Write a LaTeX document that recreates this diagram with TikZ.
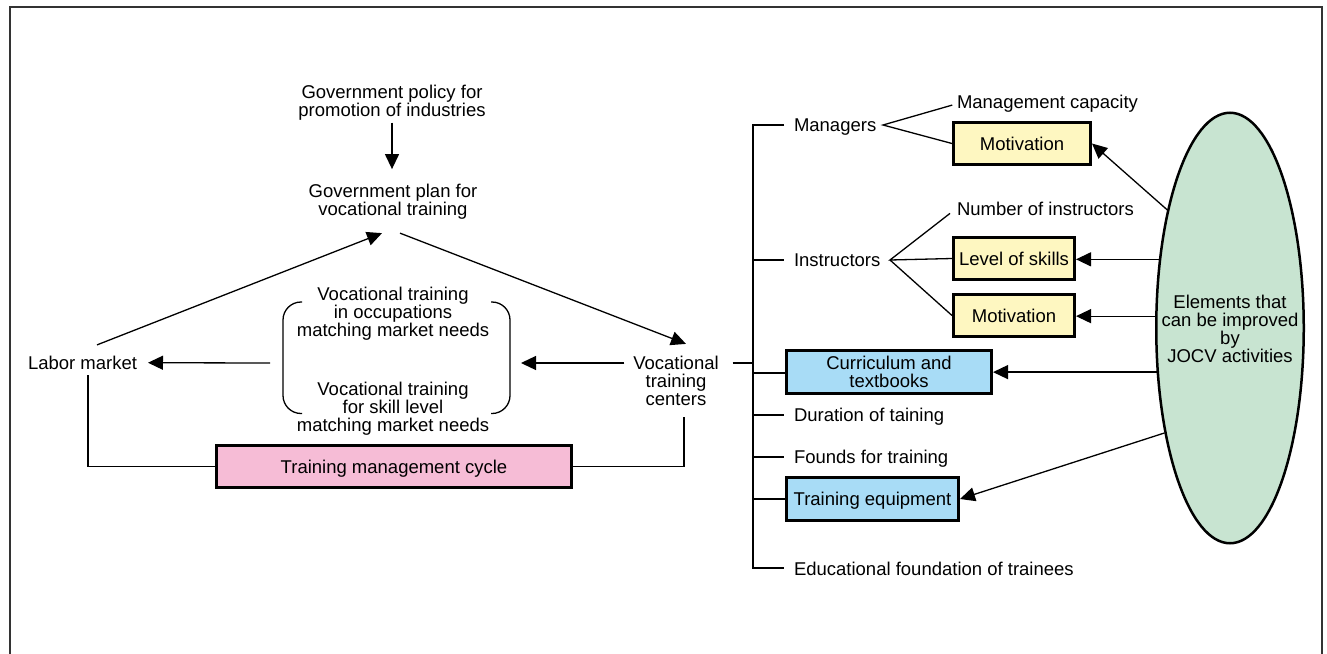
\documentclass[tikz,border=0pt]{standalone}
\usepackage{fontspec}
\setmainfont{Liberation Sans}
\usetikzlibrary{arrows.meta,shapes.geometric}
\definecolor{pinkbox}{HTML}{F6BCD6}
\definecolor{yelbox}{HTML}{FEF7C1}
\definecolor{bluebox}{HTML}{A8DCF6}
\definecolor{greenel}{HTML}{C8E4D1}
\definecolor{framecol}{HTML}{333333}
\begin{document}
\begin{tikzpicture}[x=1pt,y=-1pt,
  txt/.style={inner sep=0pt, outer sep=0pt, font=\fontsize{18.5}{18.2}\selectfont, align=center},
  ln/.style={line width=1.3pt},
  arr/.style={line width=1.3pt, -{Triangle[length=15pt,width=14pt]}},
  box/.style={draw, line width=3pt, inner sep=0pt, font=\fontsize{18.5}{18.2}\selectfont, align=center},
  onel/.style={text height=13.3pt, text depth=0pt}]
\useasboundingbox (0,0) rectangle (1327,653);
\draw[line width=2pt, framecol] (9.5,670) -- (9.5,6.5) -- (1322,6.5) -- (1322,670);

% left part (base anchor = baseline of last line)
\node[txt, anchor=base] (pol) at (392,116.7) {Government policy for\\promotion of industries};
\node[txt, anchor=base] (plan) at (393,215.7) {Government plan for\\vocational training};
\node[txt, anchor=base west] (lm) at (28,369.3) {Labor market};
\node[txt, anchor=base] (up) at (393,336.4) {Vocational training\\in occupations\\matching market needs};
\node[txt, anchor=base] (low) at (393,431.4) {Vocational training\\for skill level\\matching market needs};
\node[txt, anchor=base] (voc) at (676,405.4) {Vocational\\training\\centers};
\node[box, onel, fill=pinkbox, minimum width=355pt, minimum height=42pt] (tmc) at (394,466.5) {Training management cycle};

\coordinate (brR) at (521,363);
\coordinate (brL) at (270,363);

\draw[arr, shorten <=2pt, shorten >=15pt] (pol.south) -- (pol.south |- plan.north);
\draw[arr] ([xshift=14.5pt,yshift=11pt]lm.north) -- ([xshift=-11pt,yshift=-13.6pt]plan.south);
\draw[arr] ([xshift=7pt,yshift=-13.6pt]plan.south) -- ([xshift=10pt,yshift=11.7pt]voc.north);
\draw[arr, shorten <=9pt] (voc.west |- brR) -- (brR);
\draw[arr, shorten >=11pt] (brL) -- (lm.east);
\draw[ln, shorten <=6pt] ([xshift=5.5pt]lm.south) |- (tmc.west);
\draw[ln, shorten >=11.5pt] (tmc.east) -| ([xshift=8pt]voc.south);

\draw[ln, rounded corners=18pt] (302,302) -- (283,302) -- (283,413.5) -- (302,413.5);
\draw[ln, rounded corners=18pt] (491,302) -- (510,302) -- (510,413.5) -- (491,413.5);

% right part
\node[txt, anchor=base west] (mgr) at (794,131) {Managers};
\node[txt, anchor=base west] (mc) at (957,108.5) {Management capacity};
\node[box, onel, fill=yelbox, minimum width=137pt, minimum height=42pt] (mo1) at (1022,143.5) {Motivation};
\node[txt, anchor=base west] (ins) at (794,266.7) {Instructors};
\node[txt, anchor=base west] (ni) at (957,215) {Number of instructors};
\node[box, onel, fill=yelbox, minimum width=121pt, minimum height=42pt] (ls) at (1014,258.5) {Level of skills};
\node[box, onel, fill=yelbox, minimum width=121pt, minimum height=42pt] (mo2) at (1014,315.5) {Motivation};
\node[box, fill=bluebox, minimum width=205pt, minimum height=43pt] (cur) at (889,372) {Curriculum and\\textbooks};
\node[txt, anchor=base west] (dur) at (794,421) {Duration of taining};
\node[txt, anchor=base west] (fnd) at (794,463.3) {Founds for training};
\node[box, onel, fill=bluebox, minimum width=172pt, minimum height=43pt] (eq) at (872.5,499) {Training equipment};
\node[txt, anchor=base west] (edu) at (794,575.7) {Educational foundation of trainees};
\node[draw, ellipse, fill=greenel, line width=2.5pt, minimum width=147.5pt, minimum height=430.5pt, inner sep=0pt] (el) at (1230,328) {};
\node[txt, anchor=base] (elt) at (1230,362.9) {Elements that\\can be improved\\by\\JOCV activities};

\coordinate (t1) at (753,125);
\coordinate (t2) at (753,260);
\coordinate (tv) at (753,363);
\coordinate (t3) at (753,373);
\coordinate (t4) at (753,415);
\coordinate (t5) at (753,457);
\coordinate (t6) at (753,499);
\coordinate (t7) at (753,568);

\draw[ln, shorten <=10pt, shorten >=10pt] (t1 -| mgr.west) -- (t1) -- (t7) -- (t7 -| edu.west);
\draw[ln, shorten >=10pt] (t2) -- (t2 -| ins.west);
\draw[ln] (t3) -- (t3 -| cur.west);
\draw[ln, shorten >=10pt] (t4) -- (t4 -| dur.west);
\draw[ln, shorten >=10pt] (t5) -- (t5 -| fnd.west);
\draw[ln] (t6) -- (t6 -| eq.west);
\draw[ln, shorten <=14pt] (tv -| voc.east) -- (tv);

\coordinate (mf) at (883,125);
\draw[ln, shorten <=5pt] (mc.west) -- (mf) -- (mo1.west);
\coordinate (fi) at (890,260);
\draw[ln] ([xshift=-7pt,yshift=-5pt]ni.west) -- (fi) -- (ls.west);
\draw[ln] (fi) -- (mo2.west);

\draw[arr] (el.118.4) -- (mo1.east);
\draw[arr] (el.136.3) -- (el.136.3 -| ls.east);
\draw[arr] (el.171.6) -- (el.171.6 -| mo2.east);
\draw[arr] (el.211.5) -- (el.211.5 -| cur.east);
\draw[arr] (el.238.5) -- (eq.east);
\end{tikzpicture}
\end{document}
